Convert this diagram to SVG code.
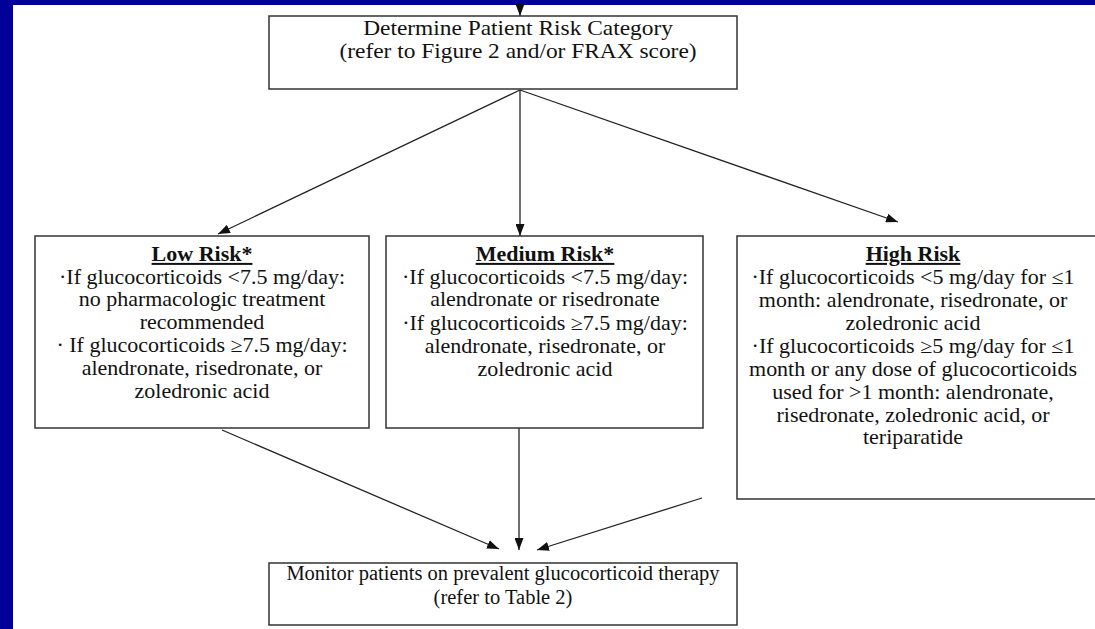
<svg xmlns="http://www.w3.org/2000/svg" width="1095" height="629" viewBox="0 0 1095 629">
<style>
.box{fill:#fff;stroke:#333;stroke-width:1.5}
.t{font-family:"Liberation Serif","Times New Roman",serif;font-size:20px;fill:#111;text-anchor:middle}
.s{font-size:20.5px}
.h{font-weight:bold;text-decoration:underline}
.c{stroke:#222;stroke-width:1.3;fill:none;marker-end:url(#ah)}
</style>
<defs>
<marker id="ah" markerUnits="userSpaceOnUse" markerWidth="12" markerHeight="9" refX="12" refY="4.5" orient="auto">
<path d="M0,0 L12,4.5 L0,9 z" fill="#111"/>
</marker>
</defs>
<rect x="0" y="0" width="1095" height="629" fill="#fff"/>
<rect x="0" y="0" width="1095" height="5" fill="#000099"/>
<rect x="0" y="0" width="13" height="629" fill="#000099"/>
<g id="connectors">
<line class="c" x1="520" y1="5" x2="520" y2="16"/>
<line class="c" x1="520" y1="90" x2="218" y2="234"/>
<line class="c" x1="520" y1="90" x2="520" y2="236"/>
<line class="c" x1="520" y1="90" x2="898" y2="222"/>
<line class="c" x1="222" y1="430" x2="499" y2="549"/>
<line class="c" x1="519" y1="428" x2="519" y2="550"/>
<line class="c" x1="702" y1="498" x2="537" y2="550"/>
</g>
<g id="determine">
<rect class="box" x="269" y="16" width="468" height="73"/>
<g transform="translate(518,0) scale(1.17,1)">
<text class="t" x="0" y="35">Determine Patient Risk Category</text>
<text class="t" x="0" y="58">(refer to Figure 2 and/or FRAX score)</text>
</g>
</g>
<g id="low">
<rect class="box" x="35" y="236" width="334" height="192"/>
<g transform="translate(202,0) scale(1.1,1)">
<text class="t h" x="0" y="261">Low Risk*</text>
<text class="t" x="0" y="284">·If glucocorticoids &lt;7.5 mg/day:</text>
<text class="t" x="0" y="306">no pharmacologic treatment</text>
<text class="t" x="0" y="329">recommended</text>
<text class="t" x="0" y="352">· If glucocorticoids ≥7.5 mg/day:</text>
<text class="t" x="0" y="375">alendronate, risedronate, or</text>
<text class="t" x="0" y="398">zoledronic acid</text>
</g>
</g>
<g id="medium">
<rect class="box" x="386" y="236" width="317" height="192"/>
<g transform="translate(545,0) scale(1.1,1)">
<text class="t h" x="0" y="261">Medium Risk*</text>
<text class="t" x="0" y="284">·If glucocorticoids &lt;7.5 mg/day:</text>
<text class="t" x="0" y="306">alendronate or risedronate</text>
<text class="t" x="0" y="330">·If glucocorticoids ≥7.5 mg/day:</text>
<text class="t" x="0" y="353">alendronate, risedronate, or</text>
<text class="t" x="0" y="376">zoledronic acid</text>
</g>
</g>
<g id="high">
<path class="box" d="M1100,236 H737 V499 H1100"/>
<g transform="translate(913,0) scale(1.1,1)">
<text class="t h" x="0" y="261">High Risk</text>
<text class="t" x="0" y="284">·If glucocorticoids &lt;5 mg/day for ≤1</text>
<text class="t" x="0" y="307">month: alendronate, risedronate, or</text>
<text class="t" x="0" y="330">zoledronic acid</text>
<text class="t" x="0" y="353">·If glucocorticoids ≥5 mg/day for ≤1</text>
<text class="t" x="0" y="376">month or any dose of glucocorticoids</text>
<text class="t" x="0" y="399">used for &gt;1 month: alendronate,</text>
<text class="t" x="0" y="422">risedronate, zoledronic acid, or</text>
<text class="t" x="0" y="444">teriparatide</text>
</g>
</g>
<g id="monitor">
<rect class="box" x="269" y="563" width="468" height="62"/>
<text class="t s" x="503" y="580">Monitor patients on prevalent glucocorticoid therapy</text>
<text class="t s" x="503" y="604">(refer to Table 2)</text>
</g>
</svg>
